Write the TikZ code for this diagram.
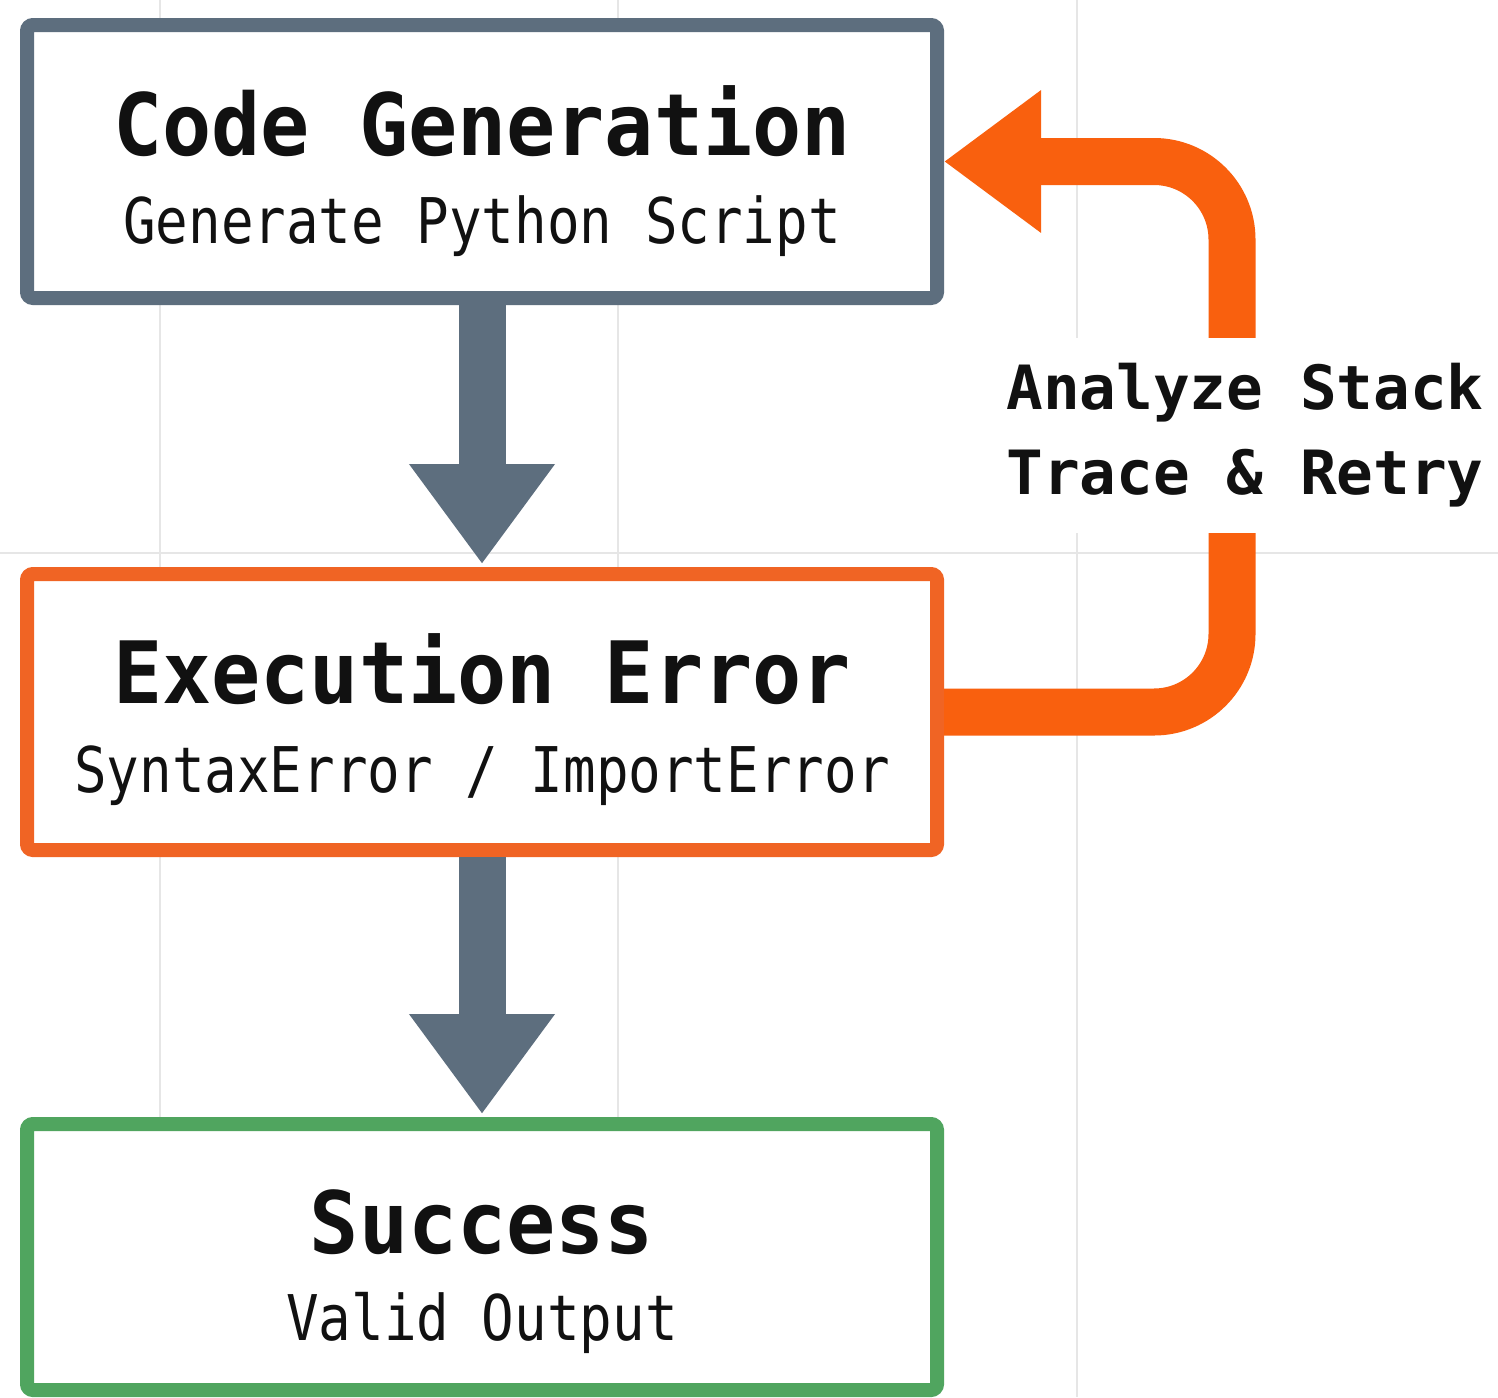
\documentclass[tikz,border=0pt]{standalone}
\usepackage{fontspec}
\usetikzlibrary{arrows.meta,calc}
\newfontfamily\titlefont[FakeStretch=0.95]{DejaVu Sans Mono}
\newfontfamily\subfont[FakeStretch=0.86]{DejaVu Sans Mono}
\newfontfamily\notefont{DejaVu Sans Mono}
\definecolor{slate}{HTML}{5D6E7E}
\definecolor{errorange}{HTML}{F06424}
\definecolor{looporange}{HTML}{F9600E}
\definecolor{okgreen}{HTML}{50A55F}
\definecolor{gridgray}{HTML}{E6E6E6}
\definecolor{ink}{HTML}{111111}
\tikzset{
  stage/.style={draw, line width=7pt, fill=white, rounded corners=3pt,
    minimum width=455pt, inner sep=0pt},
  title/.style={anchor=base, inner sep=0pt, text=ink,
    font=\titlefont\bfseries\fontsize{43}{50}\selectfont},
  subtitle/.style={anchor=base, inner sep=0pt, text=ink,
    font=\subfont\fontsize{31.5}{38}\selectfont},
  flow/.style={draw=slate, line width=23.5pt,
    -{Triangle[width=69.5pt,length=50pt]}, shorten >=1.5pt},
  retry/.style={draw=looporange, line width=23.5pt, rounded corners=39pt,
    -{Triangle[width=68pt,length=48.5pt]}},
  note/.style={fill=white, align=center, text=ink, inner xsep=3pt,
    minimum height=97.5pt,
    font=\notefont\bfseries\fontsize{30.5}{42.5}\selectfont},
  gridline/.style={draw=gridgray, line width=1.2pt}
}
\begin{document}
\begin{tikzpicture}[x=0.5pt,y=-0.5pt]
  % page frame
  \fill[white] (0,0) rectangle (1498,1397);
  \useasboundingbox (0,0) rectangle (1498,1397);

  % faint background grid
  \foreach \gx in {160,618,1077} \draw[gridline] (\gx,0) -- (\gx,1397);
  \draw[gridline] (0,553) -- (1498,553);

  % pipeline stages
  \node[stage, draw=slate, minimum height=136.5pt] (gen) at (482,161.5) {};
  \node[stage, draw=errorange, minimum height=138pt] (err) at (482,712) {};
  \node[stage, draw=okgreen, minimum height=133pt] (ok) at (482,1257) {};

  \node[title] (gent) at ([yshift=-68.5pt]gen.north) {Code Generation};
  \node[subtitle] (gens) at ([yshift=-112.5pt]gen.north) {Generate Python Script};
  \node[title] (errt) at ([yshift=-68pt]err.north) {Execution Error};
  \node[subtitle] (errs) at ([yshift=-112.5pt]err.north) {SyntaxError / ImportError};
  \node[title] (okt) at ([yshift=-68pt]ok.north) {Success};
  \node[subtitle] (oks) at ([yshift=-111.5pt]ok.north) {Valid Output};

  % forward flow
  \draw[flow] (gen.south) -- (err.north);
  \draw[flow] (err.south) -- (ok.north);

  % retry loop back to generation
  \coordinate (loopx) at (1232,435);
  \draw[retry] (err.east) -| (loopx) |- (gen.east);
  \node[note] (retrylabel) at (1245,435) {Analyze Stack\\Trace \& Retry};
\end{tikzpicture}
\end{document}
